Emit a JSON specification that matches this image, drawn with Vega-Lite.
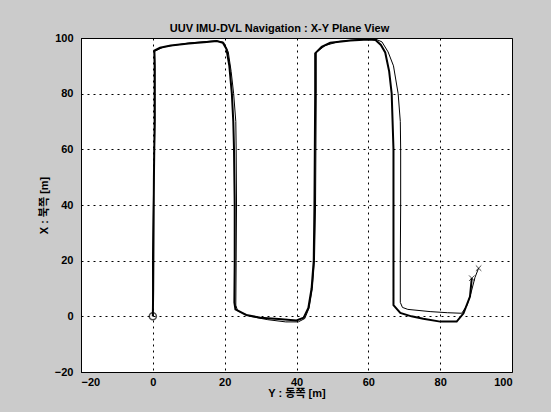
{
  "$schema": "https://vega.github.io/schema/vega-lite/v6.json",
  "width": 431,
  "height": 334,
  "autosize": "none",
  "padding": {"left": 81, "top": 38, "right": 39, "bottom": 40},
  "background": "#cbcbcb",
  "title": {"text": "UUV IMU-DVL Navigation : X-Y Plane View", "fontSize": 11, "font": "Liberation Sans", "fontWeight": "bold", "color": "black", "offset": 0, "dx": -17, "dy": 2},
  "config": {
    "view": {"stroke": "black", "strokeWidth": 1, "fill": "white"},
    "axis": {
      "labelFont": "Liberation Sans", "labelFontSize": 11, "labelFontWeight": "bold", "labelColor": "black",
      "titleFont": "Liberation Sans, Noto Sans CJK KR", "titleFontSize": 11, "titleFontWeight": "bold", "titleColor": "black",
      "domainColor": "black", "ticks": false, "grid": true, "gridColor": "black", "gridDash": [2, 4], "gridOpacity": 1, "gridWidth": 1
    }
  },
  "datasets": {
    "paths": [
      {"path": "A", "i": 1, "x": 0, "y": 0},
      {"path": "A", "i": 2, "x": 0.1, "y": 10},
      {"path": "A", "i": 3, "x": 0.2, "y": 30},
      {"path": "A", "i": 4, "x": 0.3, "y": 50},
      {"path": "A", "i": 5, "x": 0.5, "y": 70},
      {"path": "A", "i": 6, "x": 0.5, "y": 90},
      {"path": "A", "i": 7, "x": 0.4, "y": 95.5},
      {"path": "A", "i": 8, "x": 2, "y": 96.5},
      {"path": "A", "i": 9, "x": 5, "y": 97.3},
      {"path": "A", "i": 10, "x": 10, "y": 98},
      {"path": "A", "i": 11, "x": 15, "y": 98.6},
      {"path": "A", "i": 12, "x": 17.8, "y": 98.9},
      {"path": "A", "i": 13, "x": 19.5, "y": 98.3},
      {"path": "A", "i": 14, "x": 20.5, "y": 96},
      {"path": "A", "i": 15, "x": 21.3, "y": 90},
      {"path": "A", "i": 16, "x": 22, "y": 80},
      {"path": "A", "i": 17, "x": 22.4, "y": 70},
      {"path": "A", "i": 18, "x": 22.6, "y": 60},
      {"path": "A", "i": 19, "x": 22.8, "y": 40},
      {"path": "A", "i": 20, "x": 22.8, "y": 20},
      {"path": "A", "i": 21, "x": 22.7, "y": 5},
      {"path": "A", "i": 22, "x": 23, "y": 2.5},
      {"path": "A", "i": 23, "x": 26, "y": 0.5},
      {"path": "A", "i": 24, "x": 30, "y": -0.5},
      {"path": "A", "i": 25, "x": 35, "y": -1},
      {"path": "A", "i": 26, "x": 40, "y": -1.5},
      {"path": "A", "i": 27, "x": 42, "y": -0.5},
      {"path": "A", "i": 28, "x": 43.3, "y": 3},
      {"path": "A", "i": 29, "x": 44.2, "y": 10},
      {"path": "A", "i": 30, "x": 44.8, "y": 20},
      {"path": "A", "i": 31, "x": 45, "y": 40},
      {"path": "A", "i": 32, "x": 45.1, "y": 60},
      {"path": "A", "i": 33, "x": 45.2, "y": 80},
      {"path": "A", "i": 34, "x": 45.2, "y": 94.5},
      {"path": "A", "i": 35, "x": 47, "y": 96.8},
      {"path": "A", "i": 36, "x": 49.4, "y": 98.3},
      {"path": "A", "i": 37, "x": 55, "y": 99.1},
      {"path": "A", "i": 38, "x": 60, "y": 99.5},
      {"path": "A", "i": 39, "x": 62, "y": 99.3},
      {"path": "A", "i": 40, "x": 63.5, "y": 97.5},
      {"path": "A", "i": 41, "x": 64.7, "y": 94.8},
      {"path": "A", "i": 42, "x": 65.8, "y": 88},
      {"path": "A", "i": 43, "x": 66.5, "y": 80},
      {"path": "A", "i": 44, "x": 67, "y": 60},
      {"path": "A", "i": 45, "x": 67, "y": 40},
      {"path": "A", "i": 46, "x": 67, "y": 20},
      {"path": "A", "i": 47, "x": 67, "y": 4},
      {"path": "A", "i": 48, "x": 68.9, "y": 1.2},
      {"path": "A", "i": 49, "x": 72, "y": 0},
      {"path": "A", "i": 50, "x": 75.3, "y": -0.9},
      {"path": "A", "i": 51, "x": 80, "y": -1.9},
      {"path": "A", "i": 52, "x": 84.6, "y": -1.9},
      {"path": "A", "i": 53, "x": 86.5, "y": 1.1},
      {"path": "A", "i": 54, "x": 88.3, "y": 7.1},
      {"path": "A", "i": 55, "x": 88.8, "y": 13.7},
      {"path": "B", "i": 1, "x": 0, "y": 0},
      {"path": "B", "i": 2, "x": -0.1, "y": 20},
      {"path": "B", "i": 3, "x": 0.2, "y": 45},
      {"path": "B", "i": 4, "x": 0.6, "y": 70},
      {"path": "B", "i": 5, "x": 0.6, "y": 90},
      {"path": "B", "i": 6, "x": 0.5, "y": 95.2},
      {"path": "B", "i": 7, "x": 3, "y": 96.8},
      {"path": "B", "i": 8, "x": 10, "y": 98.2},
      {"path": "B", "i": 9, "x": 17.5, "y": 99},
      {"path": "B", "i": 10, "x": 19.7, "y": 98.5},
      {"path": "B", "i": 11, "x": 21, "y": 95},
      {"path": "B", "i": 12, "x": 21.8, "y": 88},
      {"path": "B", "i": 13, "x": 22.5, "y": 80},
      {"path": "B", "i": 14, "x": 23.1, "y": 70},
      {"path": "B", "i": 15, "x": 23.2, "y": 60},
      {"path": "B", "i": 16, "x": 23.3, "y": 40},
      {"path": "B", "i": 17, "x": 23.2, "y": 20},
      {"path": "B", "i": 18, "x": 23.1, "y": 4},
      {"path": "B", "i": 19, "x": 23.6, "y": 2},
      {"path": "B", "i": 20, "x": 27, "y": 0},
      {"path": "B", "i": 21, "x": 32, "y": -1.2},
      {"path": "B", "i": 22, "x": 37, "y": -2},
      {"path": "B", "i": 23, "x": 40.5, "y": -2},
      {"path": "B", "i": 24, "x": 42.3, "y": -0.8},
      {"path": "B", "i": 25, "x": 43.5, "y": 3},
      {"path": "B", "i": 26, "x": 44.4, "y": 10},
      {"path": "B", "i": 27, "x": 45, "y": 20},
      {"path": "B", "i": 28, "x": 45.3, "y": 40},
      {"path": "B", "i": 29, "x": 45.4, "y": 60},
      {"path": "B", "i": 30, "x": 45.5, "y": 80},
      {"path": "B", "i": 31, "x": 45.5, "y": 94.8},
      {"path": "B", "i": 32, "x": 48, "y": 97.3},
      {"path": "B", "i": 33, "x": 52, "y": 98.8},
      {"path": "B", "i": 34, "x": 58, "y": 99.5},
      {"path": "B", "i": 35, "x": 62, "y": 99.6},
      {"path": "B", "i": 36, "x": 63.8, "y": 98.6},
      {"path": "B", "i": 37, "x": 65.5, "y": 95},
      {"path": "B", "i": 38, "x": 67, "y": 90},
      {"path": "B", "i": 39, "x": 68.3, "y": 80},
      {"path": "B", "i": 40, "x": 68.9, "y": 70},
      {"path": "B", "i": 41, "x": 69, "y": 60},
      {"path": "B", "i": 42, "x": 69, "y": 40},
      {"path": "B", "i": 43, "x": 68.9, "y": 20},
      {"path": "B", "i": 44, "x": 68.9, "y": 5},
      {"path": "B", "i": 45, "x": 69.5, "y": 3.2},
      {"path": "B", "i": 46, "x": 71, "y": 2.5},
      {"path": "B", "i": 47, "x": 77.2, "y": 1.7},
      {"path": "B", "i": 48, "x": 82, "y": 1.3},
      {"path": "B", "i": 49, "x": 86, "y": 1.1},
      {"path": "B", "i": 50, "x": 87.5, "y": 4},
      {"path": "B", "i": 51, "x": 88.5, "y": 8},
      {"path": "B", "i": 52, "x": 89.7, "y": 14},
      {"path": "B", "i": 53, "x": 90.7, "y": 17.3}
    ],
    "markers": [
      {"kind": "start", "x": 0, "y": 0},
      {"kind": "end", "x": 88.8, "y": 13.7},
      {"kind": "end", "x": 90.7, "y": 17.3}
    ]
  },
  "encoding": {
    "x": {"field": "x", "type": "quantitative", "scale": {"domain": [-20, 100], "nice": false, "zero": false},
          "axis": {"values": [-20, 0, 20, 40, 60, 80, 100], "title": "Y : 동쪽 [m]", "labelPadding": 4, "titlePadding": 0}},
    "y": {"field": "y", "type": "quantitative", "scale": {"domain": [-20, 100], "nice": false, "zero": false},
          "axis": {"values": [-20, 0, 20, 40, 60, 80, 100], "title": "X : 북쪽 [m]", "labelPadding": 8, "titlePadding": 5}}
  },
  "layer": [
    {
      "data": {"name": "paths"},
      "transform": [{"filter": "datum.path === 'B'"}],
      "mark": {"type": "line", "color": "black", "strokeWidth": 1, "clip": true},
      "encoding": {"order": {"field": "i", "type": "quantitative"}}
    },
    {
      "data": {"name": "paths"},
      "transform": [{"filter": "datum.path === 'A'"}],
      "mark": {"type": "line", "color": "black", "strokeWidth": 2, "clip": true},
      "encoding": {"order": {"field": "i", "type": "quantitative"}}
    },
    {
      "data": {"name": "markers"},
      "transform": [{"filter": "datum.kind === 'start'"}],
      "mark": {"type": "point", "shape": "circle", "filled": false, "color": "black", "size": 50, "strokeWidth": 1.5}
    },
    {
      "data": {"name": "markers"},
      "transform": [{"filter": "datum.kind === 'end'"}],
      "mark": {"type": "point", "shape": "M-1,-1L1,1M-1,1L1,-1", "filled": false, "color": "black", "size": 30, "strokeWidth": 1}
    }
  ]
}
